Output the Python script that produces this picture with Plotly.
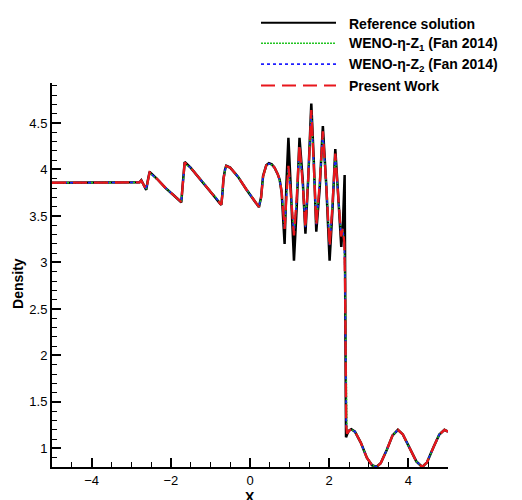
import plotly.graph_objects as go

# Reference (fine-grid) density profile
x_ref = [-5.0, -2.84, -2.79, -2.745, -2.70, -2.65, -2.62, -2.59, -2.56, -2.535,
         -2.35, -2.13, -1.92, -1.76, -1.735, -1.71, -1.68, -1.65, -1.5, -1.3,
         -1.1, -0.9, -0.76, -0.725, -0.70, -0.67, -0.63, -0.60, -0.5, -0.3,
         -0.1, 0.05, 0.16, 0.225, 0.28, 0.33, 0.41, 0.477, 0.55, 0.62,
         0.70, 0.75, 0.80, 0.84, 0.874, 0.92, 0.97, 1.03, 1.11, 1.18,
         1.25, 1.33, 1.40, 1.47, 1.548, 1.61, 1.674, 1.76, 1.84, 1.93,
         2.01, 2.08, 2.154, 2.23, 2.305, 2.35, 2.39, 2.405, 2.415, 2.425,
         2.45, 2.50, 2.558, 2.65, 2.80, 2.95, 3.08, 3.19, 3.30, 3.45,
         3.60, 3.735, 3.86, 4.02, 4.20, 4.35, 4.47, 4.63, 4.78, 4.91, 5.0]
rho_ref = [3.857, 3.857, 3.862, 3.885, 3.84, 3.79, 3.78, 3.86, 3.95, 3.975,
           3.90, 3.80, 3.72, 3.655, 3.647, 3.78, 3.98, 4.08, 4.02, 3.92,
           3.82, 3.71, 3.635, 3.62, 3.72, 3.90, 4.00, 4.04, 4.02, 3.92,
           3.79, 3.70, 3.63, 3.595, 3.70, 3.93, 4.045, 4.067, 4.055, 4.02,
           3.95, 3.89, 3.75, 3.45, 3.20, 3.85, 4.34, 3.80, 3.02, 3.60,
           4.34, 3.90, 3.31, 3.90, 4.71, 4.10, 3.33, 3.80, 4.466, 3.80,
           3.02, 3.55, 4.22, 3.70, 3.166, 3.45, 3.94, 2.60, 1.40, 1.12,
           1.15, 1.19, 1.206, 1.18, 1.06, 0.90, 0.82, 0.80, 0.84, 0.98,
           1.14, 1.20, 1.15, 1.01, 0.86, 0.80, 0.85, 1.01, 1.15, 1.20, 1.18]

# Numerical solutions (shared grid)
x_num = [-5.0, -2.84, -2.79, -2.745, -2.70, -2.65, -2.62, -2.59, -2.56, -2.535,
         -2.35, -2.13, -1.92, -1.76, -1.735, -1.71, -1.68, -1.65, -1.5, -1.3,
         -1.1, -0.9, -0.76, -0.725, -0.70, -0.67, -0.63, -0.60, -0.5, -0.3,
         -0.1, 0.05, 0.16, 0.225, 0.28, 0.33, 0.41, 0.477, 0.55, 0.62,
         0.70, 0.75, 0.80, 0.84, 0.874, 0.92, 0.97, 1.03, 1.11, 1.18,
         1.25, 1.33, 1.40, 1.47, 1.548, 1.61, 1.674, 1.76, 1.84, 1.93,
         2.01, 2.08, 2.154, 2.23, 2.30, 2.34, 2.38, 2.40, 2.415, 2.43,
         2.45, 2.50, 2.558, 2.65, 2.80, 2.95, 3.08, 3.19, 3.30, 3.45,
         3.60, 3.735, 3.86, 4.02, 4.20, 4.35, 4.47, 4.63, 4.78, 4.91, 5.0]
rho_fan1 = [3.857, 3.857, 3.860, 3.875, 3.845, 3.80, 3.79, 3.85, 3.93, 3.96,
            3.90, 3.80, 3.72, 3.66, 3.655, 3.76, 3.96, 4.06, 4.02, 3.92,
            3.82, 3.71, 3.64, 3.63, 3.71, 3.88, 3.99, 4.03, 4.02, 3.92,
            3.79, 3.70, 3.63, 3.60, 3.69, 3.91, 4.04, 4.06, 4.05, 4.02,
            3.95, 3.88, 3.75, 3.56, 3.38, 3.70, 4.01, 3.75, 3.31, 3.70,
            4.24, 3.85, 3.39, 3.90, 4.61, 4.05, 3.42, 3.85, 4.38, 3.80,
            3.19, 3.60, 4.15, 3.70, 3.30, 3.36, 3.23, 2.85, 2.05, 1.28,
            1.16, 1.19, 1.205, 1.18, 1.06, 0.90, 0.82, 0.80, 0.84, 0.98,
            1.14, 1.20, 1.15, 1.01, 0.86, 0.80, 0.85, 1.01, 1.15, 1.20, 1.18]
rho_fan2 = [3.857, 3.857, 3.861, 3.878, 3.843, 3.80, 3.785, 3.855, 3.935, 3.965,
            3.90, 3.80, 3.72, 3.66, 3.652, 3.77, 3.97, 4.07, 4.02, 3.92,
            3.82, 3.71, 3.64, 3.625, 3.715, 3.89, 3.995, 4.035, 4.02, 3.92,
            3.79, 3.70, 3.63, 3.598, 3.695, 3.92, 4.042, 4.063, 4.052, 4.02,
            3.95, 3.885, 3.75, 3.555, 3.37, 3.70, 4.02, 3.75, 3.30, 3.70,
            4.25, 3.85, 3.38, 3.90, 4.62, 4.05, 3.41, 3.85, 4.40, 3.80,
            3.18, 3.60, 4.16, 3.70, 3.29, 3.36, 3.22, 2.82, 2.02, 1.26,
            1.16, 1.19, 1.205, 1.18, 1.06, 0.90, 0.82, 0.80, 0.84, 0.98,
            1.14, 1.20, 1.15, 1.01, 0.86, 0.80, 0.85, 1.01, 1.15, 1.20, 1.18]
rho_present = [3.857, 3.857, 3.861, 3.880, 3.842, 3.795, 3.785, 3.855, 3.94, 3.968,
               3.90, 3.80, 3.72, 3.658, 3.65, 3.775, 3.975, 4.075, 4.02, 3.92,
               3.82, 3.71, 3.637, 3.622, 3.718, 3.895, 3.998, 4.038, 4.02, 3.92,
               3.79, 3.70, 3.63, 3.597, 3.698, 3.925, 4.044, 4.065, 4.053, 4.02,
               3.95, 3.887, 3.76, 3.55, 3.36, 3.70, 4.04, 3.75, 3.29, 3.70,
               4.27, 3.85, 3.37, 3.90, 4.64, 4.05, 3.40, 3.85, 4.41, 3.80,
               3.17, 3.60, 4.17, 3.70, 3.28, 3.36, 3.22, 2.80, 2.00, 1.25,
               1.16, 1.19, 1.206, 1.18, 1.06, 0.90, 0.82, 0.80, 0.84, 0.98,
               1.14, 1.20, 1.15, 1.01, 0.86, 0.80, 0.85, 1.01, 1.15, 1.20, 1.18]

legend_labels = ["Reference solution",
                 "WENO-\u03b7-Z<sub>1</sub> (Fan 2014)",
                 "WENO-\u03b7-Z<sub>2</sub> (Fan 2014)",
                 "Present Work"]
x_ticks = [-4, -2, 0, 2, 4]
y_ticks = [1, 1.5, 2, 2.5, 3, 3.5, 4, 4.5]

styles = [
    dict(color="#000000", width=2.5, dash="solid"),
    dict(color="#22c422", width=1.6, dash="2px,1px"),
    dict(color="#1f1fff", width=1.6, dash="3px,3px"),
    dict(color="#e8161c", width=2.3, dash="14px,7px"),
]

fig = go.Figure()
series = [(x_ref, rho_ref), (x_num, rho_fan1), (x_num, rho_fan2), (x_num, rho_present)]
for (xs, ys), st, name in zip(series, styles, legend_labels):
    fig.add_trace(go.Scatter(x=xs, y=ys, mode="lines", line=st, name=name,
                             showlegend=False, cliponaxis=True))

W, H = 522, 500
ml, mr, mt, mb = 52, 74, 83, 31
pw, ph = W - ml - mr, H - mt - mb


def px(xp):
    return (xp - ml) / pw


def py(yp):
    return (H - mb - yp) / ph


# Hand-built legend at the top right
row_y = [22.5, 43, 64, 85.5]
shapes = []
annotations = []
for yy, st, name in zip(row_y, styles, legend_labels):
    shapes.append(dict(type="line", xref="paper", yref="paper",
                       x0=px(261), x1=px(336), y0=py(yy), y1=py(yy),
                       line=dict(color=st["color"], width=min(st["width"], 2), dash=st["dash"])))
    annotations.append(dict(xref="paper", yref="paper", x=px(347), y=py(yy + 1),
                            xanchor="left", yanchor="middle", showarrow=False,
                            text="<b>" + name + "</b>",
                            font=dict(family="Liberation Sans, Arial", size=14, color="black")))

annotations.append(dict(xref="paper", yref="paper", x=px(18), y=py(285),
                        xanchor="center", yanchor="middle", showarrow=False, textangle=-90,
                        text="<b>Density</b>",
                        font=dict(family="Liberation Sans, Arial", size=14, color="black")))
annotations.append(dict(xref="paper", yref="paper", x=px(250), y=py(499),
                        xanchor="center", yanchor="middle", showarrow=False,
                        text="<b>X</b>",
                        font=dict(family="Liberation Sans, Arial", size=14, color="black")))

axis_common = dict(showgrid=False, zeroline=False, showline=True, linecolor="black",
                   linewidth=2, ticks="inside", ticklen=9, tickwidth=1.5, tickcolor="black",
                   tickfont=dict(family="Liberation Sans, Arial", size=13, color="black"),
                   mirror=False)

fig.update_layout(
    width=W, height=H,
    margin=dict(l=ml, r=mr, t=mt, b=mb),
    paper_bgcolor="white", plot_bgcolor="white",
    xaxis=dict(range=[-5, 5], tickvals=x_ticks,
               minor=dict(dtick=0.5, tick0=0, ticks="inside", ticklen=5, tickwidth=1, tickcolor="black"),
               **axis_common),
    yaxis=dict(range=[0.8, 4.93], tickvals=y_ticks,
               minor=dict(dtick=0.1, tick0=0, ticks="inside", ticklen=5, tickwidth=1, tickcolor="black"),
               **axis_common),
    shapes=shapes,
    annotations=annotations,
)

fig.write_html("out.html")
